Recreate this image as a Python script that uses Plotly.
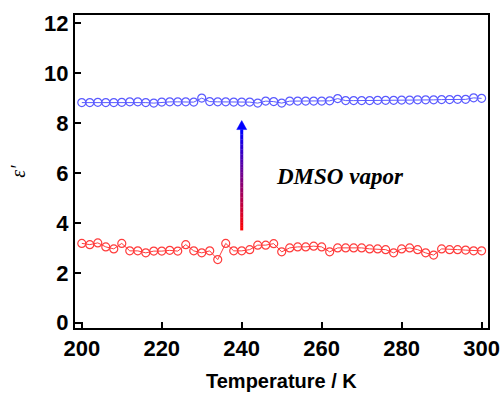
import plotly.graph_objects as go
import numpy as np

temps = list(range(200, 301, 2))

eps_dmso = [8.82, 8.82, 8.83, 8.82, 8.82, 8.83, 8.85, 8.85, 8.82, 8.80,
            8.84, 8.85, 8.85, 8.85, 8.84, 9.00, 8.86, 8.85, 8.85, 8.84,
            8.84, 8.84, 8.80, 8.88, 8.86, 8.80, 8.88, 8.88, 8.88, 8.88,
            8.88, 8.89, 8.98, 8.90, 8.90, 8.90, 8.90, 8.91, 8.91, 8.91,
            8.92, 8.92, 8.93, 8.93, 8.93, 8.94, 8.94, 8.95, 8.95, 9.01, 8.99]

eps_pristine = [3.18, 3.13, 3.20, 3.04, 2.96, 3.18, 2.88, 2.88, 2.80, 2.87,
                2.87, 2.90, 2.87, 3.13, 2.88, 2.80, 2.88, 2.53, 3.18, 2.88,
                2.88, 2.93, 3.11, 3.11, 3.17, 2.84, 3.00, 3.04, 3.04, 3.07,
                3.04, 2.84, 3.00, 3.00, 3.00, 3.00, 2.96, 2.96, 2.93, 2.80,
                2.96, 3.00, 2.93, 2.80, 2.71, 2.96, 2.93, 2.93, 2.91, 2.88, 2.88]

arrow_x = 240
arrow_y0 = 3.7
arrow_y1 = 8.1
label_text = "DMSO vapor"
x_title = "Temperature / K"
y_title = "ε′"

fig = go.Figure()

fig.add_trace(go.Scatter(
    x=temps, y=eps_dmso, mode="lines+markers",
    line=dict(color="rgb(90,90,255)", width=1),
    marker=dict(symbol="circle-open", size=8, color="rgb(90,90,255)",
                line=dict(width=1.2)),
    showlegend=False))

fig.add_trace(go.Scatter(
    x=temps, y=eps_pristine, mode="lines+markers",
    line=dict(color="rgb(255,60,60)", width=1),
    marker=dict(symbol="circle-open", size=8, color="rgb(255,60,60)",
                line=dict(width=1.2)),
    showlegend=False))

# gradient arrow shaft (red -> blue)
head_len = 0.36
shaft_top = arrow_y1 - head_len
n = 40
ys = np.linspace(arrow_y0, shaft_top, n + 1)
shapes = []
for i in range(n):
    t = i / (n - 1)
    r = int(255 * (1 - t))
    b = int(255 * t)
    shapes.append(dict(type="line", xref="x", yref="y",
                       x0=arrow_x, x1=arrow_x, y0=ys[i], y1=ys[i + 1] + 0.01,
                       line=dict(color=f"rgb({r},0,{b})", width=3)))
shapes.append(dict(type="path", xref="x", yref="y",
                   path=f"M {arrow_x-1.25},{shaft_top} L {arrow_x+1.25},{shaft_top} L {arrow_x},{arrow_y1} Z",
                   fillcolor="rgb(0,0,255)", line=dict(color="rgb(0,0,255)", width=0.5)))

fig.update_layout(
    width=501, height=393,
    margin=dict(l=75, r=13, t=15, b=65),
    paper_bgcolor="white", plot_bgcolor="white",
    shapes=shapes,
    annotations=[
        dict(x=0.483, xref="paper", y=5.85, yref="y", text=f"<b><i>{label_text}</i></b>",
             showarrow=False, xanchor="left", yanchor="middle",
             font=dict(family="Liberation Serif, Times New Roman, serif", size=23, color="black")),
        dict(x=-0.14, xref="paper", y=0.50, yref="paper", text=f"<i>{y_title}</i>",
             showarrow=False, textangle=-90, xanchor="center", yanchor="middle",
             font=dict(family="Liberation Serif, Times New Roman, serif", size=20, color="black")),
        dict(x=0.5, xref="paper", y=-0.170, yref="paper", text=f"<b>{x_title}</b>",
             showarrow=False, xanchor="center", yanchor="middle",
             font=dict(family="Liberation Sans, Arial, sans-serif", size=20, color="black")),
    ],
    xaxis=dict(range=[198.3, 301.6], tickvals=[200, 220, 240, 260, 280, 300],
               ticks="inside", ticklen=6, tickwidth=2, tickcolor="black",
               showline=True, linewidth=2, linecolor="black", mirror=True,
               showgrid=False, zeroline=False, automargin=False,
               tickfont=dict(family="Liberation Sans, Arial, sans-serif", size=22, color="black", weight="bold")),
    yaxis=dict(range=[-0.21, 12.33], tickvals=[0, 2, 4, 6, 8, 10, 12],
               ticks="inside", ticklen=6, tickwidth=2, tickcolor="black",
               showline=True, linewidth=2, linecolor="black", mirror=True,
               showgrid=False, zeroline=False, automargin=False,
               tickfont=dict(family="Liberation Sans, Arial, sans-serif", size=22, color="black", weight="bold")),
)

fig.write_html("out.html")
